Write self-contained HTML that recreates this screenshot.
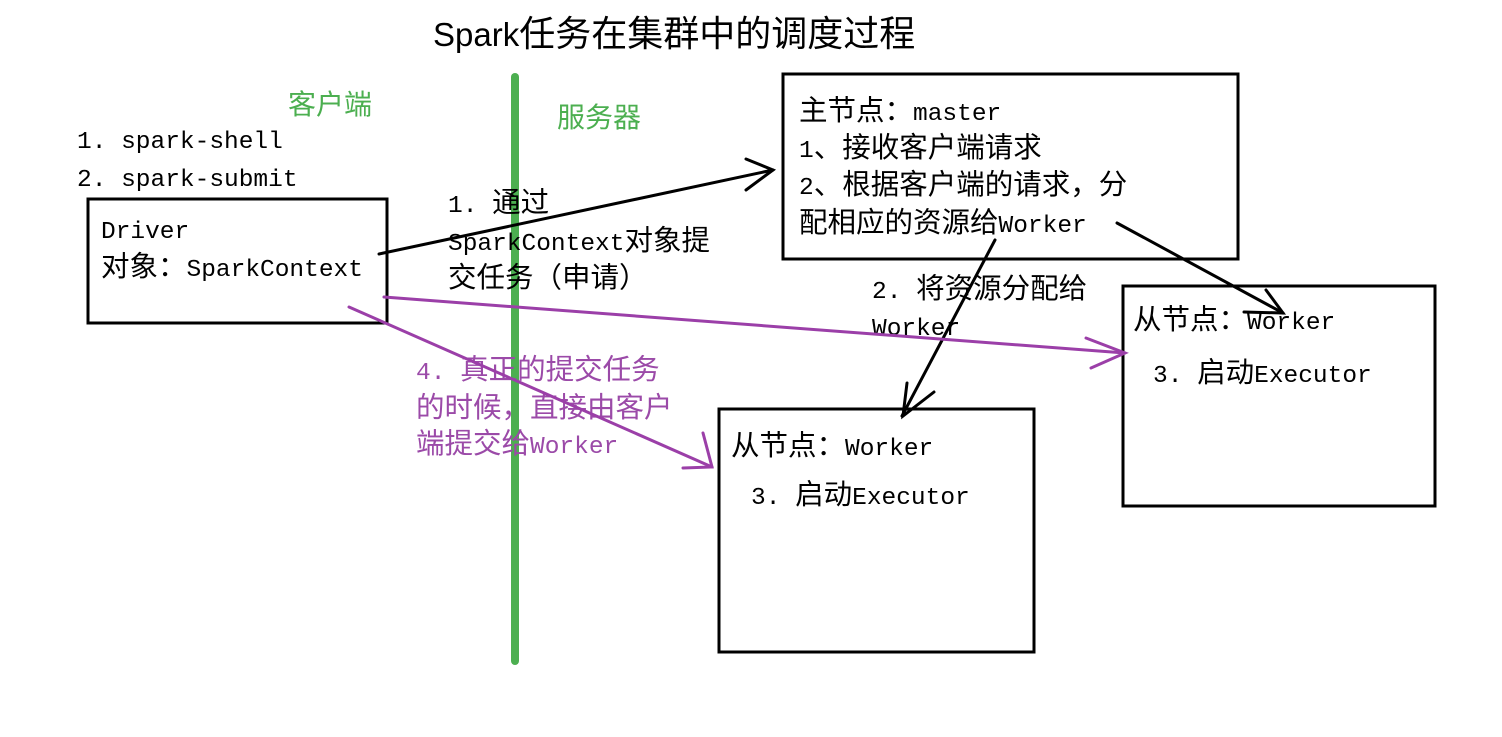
<!DOCTYPE html>
<html><head><meta charset="utf-8"><style>
html,body{margin:0;padding:0;background:#fff;}
svg text{font-family:"Liberation Mono","Noto Sans CJK SC",monospace;font-size:24.5px;}
svg tspan.c{font-family:"Noto Sans CJK SC",sans-serif;font-size:28.5px;}
</style></head><body>
<svg width="1502" height="732" viewBox="0 0 1502 732" xmlns="http://www.w3.org/2000/svg">
<rect width="1502" height="732" fill="#fff"/>
<text x="433" y="46" style="font-family:'Liberation Sans','Noto Sans CJK SC',sans-serif;font-size:33px" fill="#000">Spark<tspan style="font-size:36px">任务在集群中的调度过程</tspan></text>
<line x1="515" y1="77" x2="515" y2="661" stroke="#4caf50" stroke-width="8" stroke-linecap="round"/>
<g fill="none" stroke="#000" stroke-width="3">
<rect x="88" y="199" width="299" height="124"/>
<rect x="783" y="74" width="455" height="185"/>
<rect x="719" y="409" width="315" height="243"/>
<rect x="1123" y="286" width="312" height="220"/>
</g>
<g fill="#4caf50" style="font-family:'Noto Sans CJK SC',sans-serif">
<text x="288" y="114" style="font-size:28px">客户端</text>
<text x="557" y="127" style="font-size:28px">服务器</text>
</g>
<g fill="#000">
<text x="77" y="148">1. spark-shell</text>
<text x="77" y="186">2. spark-submit</text>
<text x="101" y="238">Driver</text>
<text x="101" y="276"><tspan class="c">对象：</tspan>SparkContext</text>
<text x="448" y="212">1. <tspan class="c">通过</tspan></text>
<text x="448" y="250">SparkContext<tspan class="c">对象提</tspan></text>
<text x="448" y="287"><tspan class="c">交任务（申请）</tspan></text>
<text x="799" y="120"><tspan class="c">主节点：</tspan>master</text>
<text x="799" y="157">1<tspan class="c">、接收客户端请求</tspan></text>
<text x="799" y="194">2<tspan class="c">、根据客户端的请求，分</tspan></text>
<text x="799" y="232"><tspan class="c">配相应的资源给</tspan>Worker</text>
<text x="872" y="298">2. <tspan class="c">将资源分配给</tspan></text>
<text x="872" y="335">Worker</text>
<text x="1133" y="329"><tspan class="c">从节点：</tspan>Worker</text>
<text x="1153" y="382">3. <tspan class="c">启动</tspan>Executor</text>
<text x="731" y="455"><tspan class="c">从节点：</tspan>Worker</text>
<text x="751" y="504">3. <tspan class="c">启动</tspan>Executor</text>
</g>
<g fill="#9b4aa8">
<text x="416" y="379">4. <tspan class="c">真正的提交任务</tspan></text>
<text x="416" y="417"><tspan class="c">的时候，直接由客户</tspan></text>
<text x="416" y="453"><tspan class="c">端提交给</tspan>Worker</text>
</g>
<g stroke="#000" stroke-width="3" fill="none" stroke-linecap="round">
<line x1="379" y1="254" x2="773" y2="170"/>
<polyline points="746,159 773,170 746,190"/>
<line x1="995" y1="240" x2="902" y2="416"/>
<polyline points="907,383 903,416 934,392"/>
<line x1="1117" y1="223" x2="1283" y2="313"/>
<polyline points="1244,312 1283,313 1266,290"/>
</g>
<g stroke="#9b3fa8" stroke-width="3" fill="none" stroke-linecap="round">
<line x1="384" y1="297" x2="1125" y2="353"/>
<polyline points="1086,338 1125,353 1091,368"/>
<line x1="349" y1="307" x2="712" y2="467"/>
<polyline points="703,433 712,467 683,468"/>
</g>
</svg>
</body></html>
